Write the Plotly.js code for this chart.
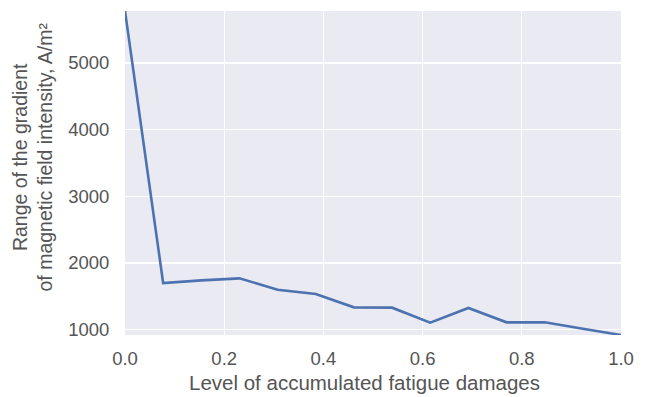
<!DOCTYPE html>
<html>
<head>
<meta charset="utf-8">
<script src="https://cdn.plot.ly/plotly-3.0.1.min.js"></script>
<style>html,body{margin:0;padding:0;background:#fff;}#chart{width:648px;height:397px;}</style>
</head>
<body>
<div id="chart"></div>
<script>
const damageLevel = [0, 1/13, 2/13, 3/13, 4/13, 5/13, 6/13, 7/13, 8/13, 9/13, 10/13, 11/13, 12/13, 1];
const gradientRange = [5780, 1700, 1740, 1770, 1600, 1535, 1335, 1330, 1105, 1325, 1110, 1110, 1015, 920];
const xTicks = [0, 0.2, 0.4, 0.6, 0.8, 1.0];
const xTickText = ["0.0", "0.2", "0.4", "0.6", "0.8", "1.0"];
const yTicks = [1000, 2000, 3000, 4000, 5000];
const xTitle = 'Level of accumulated fatigue damages';
const yTitle = 'Range of the gradient<br>of magnetic field intensity, A/m²';

const ymin = Math.min(...gradientRange), ymax = Math.max(...gradientRange);
const txt = '#555555';

Plotly.newPlot('chart', [{
  x: damageLevel, y: gradientRange, type: 'scatter', mode: 'lines',
  line: {color: '#4C72B0', width: 2.6}, hoverinfo: 'skip'
}], {
  width: 648, height: 397,
  margin: {l: 125, r: 27, t: 11, b: 62},
  paper_bgcolor: '#ffffff', plot_bgcolor: '#EAEAF2',
  font: {family: 'Liberation Sans, Arial, sans-serif', color: txt, size: 18.5},
  showlegend: false,
  xaxis: {
    range: [0, 1], tickvals: xTicks, ticktext: xTickText, automargin: false,
    showgrid: true, gridcolor: '#ffffff', gridwidth: 1.3, zeroline: false, showline: false,
    ticks: 'outside', ticklen: 7, tickcolor: 'rgba(0,0,0,0)', tickfont: {size: 18.5, color: txt}
  },
  yaxis: {
    range: [ymin, ymax], tickvals: yTicks, automargin: false,
    showgrid: true, gridcolor: '#ffffff', gridwidth: 1.3, zeroline: false, showline: false,
    ticks: 'outside', ticklen: 11, tickcolor: 'rgba(0,0,0,0)', tickfont: {size: 18.5, color: txt}
  },
  annotations: [
    {text: xTitle, xref: 'paper', yref: 'paper', x: 0.482, y: -0.148, xanchor: 'center', yanchor: 'middle',
     showarrow: false, font: {size: 20.5, color: txt}},
    {text: yTitle, xref: 'paper', yref: 'paper', x: -0.186, y: 0.55, xanchor: 'center', yanchor: 'middle',
     textangle: -90, showarrow: false, font: {size: 19.5, color: txt}}
  ]
}, {staticPlot: true});
</script>
</body>
</html>
